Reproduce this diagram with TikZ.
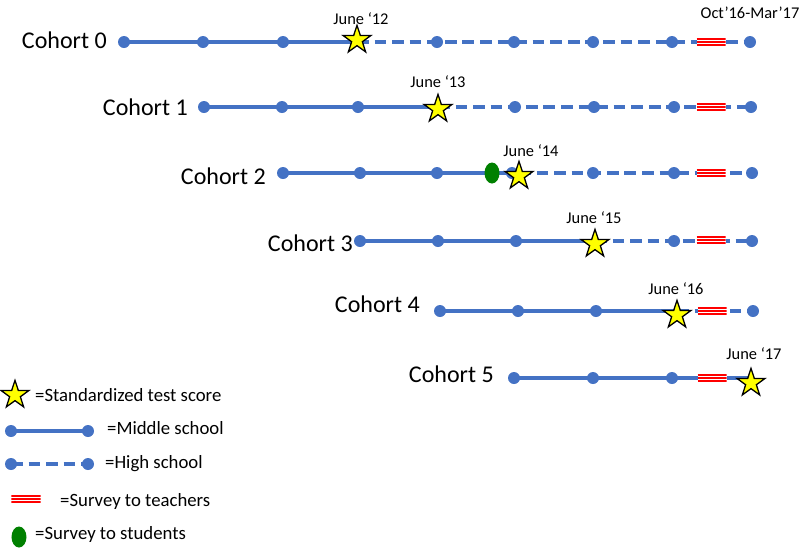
\documentclass[tikz,border=0pt]{standalone}
\usepackage{fontspec}
\setmainfont{Carlito}
\usepackage{tikz}
\usetikzlibrary{shapes.geometric,backgrounds}
\definecolor{lineblue}{HTML}{4472C4}
\definecolor{staryellow}{HTML}{FFFF00}
\definecolor{surveyred}{HTML}{FF0000}
\definecolor{pupilgreen}{HTML}{008000}

\begin{document}
\begin{tikzpicture}[x=0.03cm, y=-0.03cm,
  every node/.style={inner sep=0pt},
  dot/.style={circle, fill=lineblue, minimum size=0.36cm},
  middle/.style={lineblue, line width=3.2pt},
  high/.style={lineblue, line width=3.2pt, dash pattern=on 10pt off 5pt},
  test/.style={star, star points=5, star point ratio=2.6, minimum size=0.88cm,
    fill=staryellow, draw=black, line width=1.1pt},
  teachers/.style={rectangle, minimum width=0.87cm, minimum height=0.27cm, fill=white,
    path picture={\foreach \dy in {-0.09,0,0.09}
      \draw[surveyred, line width=1.7pt] ([yshift=\dy cm]path picture bounding box.west)
        -- ([yshift=\dy cm]path picture bounding box.east);}},
  pupils/.style={ellipse, fill=pupilgreen, minimum width=0.45cm, minimum height=0.63cm},
  cohort/.style={anchor=east, font=\fontsize{20.5}{24}\selectfont},
  date/.style={font=\fontsize{14}{17}\selectfont},
  legend/.style={anchor=west, font=\fontsize{16}{19}\selectfont}]

\useasboundingbox (0,0) rectangle (803,547);

% ---------------- cohort 0 -------------------------------------------------
\node[cohort] (l0) at (107,40) {Cohort 0};
\foreach \n/\x in {m1/124, m2/203, m3/283, h1/437, h2/514, h3/593, h4/672, h5/750}
  \node[dot] (c0\n) at (\x,42) {};
\node[teachers] (c0s) at (711,42) {};
\node[test] (c0t) at (357,40) {};
\node[date] (d0) at (361,19) {June ‘12};
\node[date] (dsurvey) at (750,13) {Oct’16-Mar’17};
\begin{scope}[on background layer]
  \draw[middle] (c0m1.center) -- (c0m1 -| c0t);
  \draw[high] (c0m1 -| c0t) -- (c0h5.center);
\end{scope}

% ---------------- cohort 1 -------------------------------------------------
\node[cohort] (l1) at (188,107) {Cohort 1};
\foreach \n/\x in {m1/204, m2/282, m3/358, h1/515, h2/594, h3/674, h4/751}
  \node[dot] (c1\n) at (\x,107) {};
\node[teachers] (c1s) at (711,107) {};
\node[test] (c1t) at (438,109) {};
\node[date] (d1) at (438,82) {June ‘13};
\begin{scope}[on background layer]
  \draw[middle] (c1m1.center) -- (c1m1 -| c1t);
  \draw[high] (c1m1 -| c1t) -- (c1h4.center);
\end{scope}

% ---------------- cohort 2 -------------------------------------------------
\node[cohort] (l2) at (266,176) {Cohort 2};
\foreach \n/\x in {m1/283, m2/360, m3/437, m4/512, h1/593, h2/674, h3/752}
  \node[dot] (c2\n) at (\x,173) {};
\node[pupils] (c2p) at (492,173) {};
\node[teachers] (c2s) at (711,173) {};
\node[test] (c2t) at (519,176) {};
\node[date] (d2) at (531,151) {June ‘14};
\begin{scope}[on background layer]
  \draw[middle] (c2m1.center) -- (c2m1 -| c2t);
  \draw[high] (c2m1 -| c2t) -- (c2h3.center);
\end{scope}

% ---------------- cohort 3 -------------------------------------------------
\node[cohort] (l3) at (353,243) {Cohort 3};
\foreach \n/\x in {m1/360, m2/438, m3/516, h1/674, h2/752}
  \node[dot] (c3\n) at (\x,241) {};
\node[teachers] (c3s) at (711,240) {};
\node[test] (c3t) at (595,244) {};
\node[date] (d3) at (594,218) {June ‘15};
\begin{scope}[on background layer]
  \draw[middle] (c3m1.center) -- (c3m1 -| c3t);
  \draw[high] (c3m1 -| c3t) -- (c3h2.center);
\end{scope}

% ---------------- cohort 4 -------------------------------------------------
\node[cohort] (l4) at (420,304) {Cohort 4};
\foreach \n/\x in {m1/440, m2/518, m3/596, h1/753}
  \node[dot] (c4\n) at (\x,311) {};
\node[teachers] (c4s) at (712,311) {};
\node[test] (c4t) at (677,315) {};
\node[date] (d4) at (676,289) {June ‘16};
\begin{scope}[on background layer]
  \draw[middle] (c4m1.center) -- (c4m1 -| c4t);
  \draw[high] (c4m1 -| c4t) -- (c4h1.center);
\end{scope}

% ---------------- cohort 5 -------------------------------------------------
\node[cohort] (l5) at (494,374) {Cohort 5};
\foreach \n/\x in {m1/514, m2/593, m3/672}
  \node[dot] (c5\n) at (\x,378) {};
\node[teachers] (c5s) at (712,378) {};
\node[test] (c5t) at (751,383) {};
\node[date] (d5) at (754,354) {June ‘17};
\begin{scope}[on background layer]
  \draw[middle] (c5m1.center) -- (c5m1 -| c5t);
\end{scope}

% ---------------- legend ---------------------------------------------------
\node[test] (kt) at (15,395) {};
\node[legend] (ktl) at (35,395) {=Standardized test score};
\node[dot] (kma) at (11,431) {};
\node[dot] (kmb) at (88,431) {};
\node[legend] (kml) at (107,428) {=Middle school};
\node[dot] (kha) at (11,464) {};
\node[dot] (khb) at (88,464) {};
\node[legend] (khl) at (105,464) {=High school};
\node[teachers] (ks) at (26,499) {};
\node[legend] (ksl) at (60,501) {=Survey to teachers};
\node[pupils] (kp) at (19,537) {};
\node[legend] (kpl) at (35,534) {=Survey to students};
\begin{scope}[on background layer]
  \draw[middle] (kma.center) -- (kmb.center);
  \draw[high] (kha.center) -- (khb.center);
\end{scope}

\end{tikzpicture}
\end{document}
